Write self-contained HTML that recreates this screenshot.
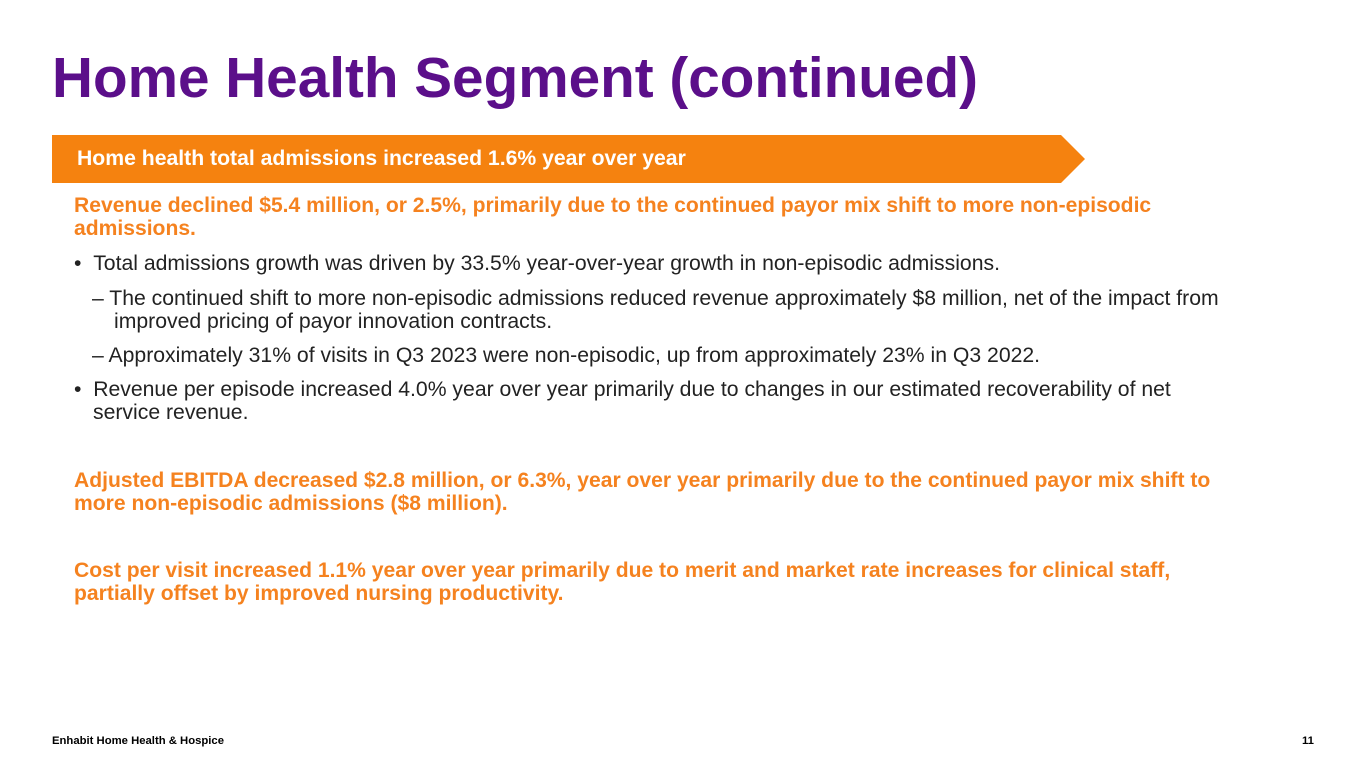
<!DOCTYPE html>
<html><head><meta charset="utf-8"><style>
body{margin:0;width:1365px;height:768px;background:#fff;position:relative;overflow:hidden;font-family:"Liberation Sans",Arial,sans-serif}
.a{position:absolute;white-space:nowrap}
.t{left:52px;top:46px;font-size:56.7px;font-weight:bold;color:#5b0f8a}
.o{color:#f5821f;font-weight:bold;font-size:21.1px}
.b{color:#222;font-size:21.2px}
.f{font-size:11.3px;font-weight:bold;color:#000}
</style></head><body>
<div class="a t">Home Health Segment (continued)</div>
<svg class="a" style="left:52px;top:135px" width="1035" height="48"><polygon points="0,0 1009,0 1033,24 1009,48 0,48" fill="#f5820f"/></svg>
<div class="a" style="left:77px;top:147px;font-size:21.2px;font-weight:bold;color:#fff">Home health total admissions increased 1.6% year over year</div>
<div class="a o" style="left:74px;top:194px">Revenue declined $5.4 million, or 2.5%, primarily due to the continued payor mix shift to more non-episodic</div>
<div class="a o" style="left:74px;top:217px">admissions.</div>
<div class="a b" style="left:74px;top:252px">•&nbsp;&nbsp;Total admissions growth was driven by 33.5% year-over-year growth in non-episodic admissions.</div>
<div class="a b" style="left:92px;top:287px">– The continued shift to more non-episodic admissions reduced revenue approximately $8 million, net of the impact from</div>
<div class="a b" style="left:114px;top:310px">improved pricing of payor innovation contracts.</div>
<div class="a b" style="left:92px;top:344px">– Approximately 31% of visits in Q3 2023 were non-episodic, up from approximately 23% in Q3 2022.</div>
<div class="a b" style="left:74px;top:378px">•&nbsp;&nbsp;Revenue per episode increased 4.0% year over year primarily due to changes in our estimated recoverability of net</div>
<div class="a b" style="left:93px;top:401px">service revenue.</div>
<div class="a o" style="left:74px;top:469px">Adjusted EBITDA decreased $2.8 million, or 6.3%, year over year primarily due to the continued payor mix shift to</div>
<div class="a o" style="left:74px;top:492px">more non-episodic admissions ($8 million).</div>
<div class="a o" style="left:74px;top:559px">Cost per visit increased 1.1% year over year primarily due to merit and market rate increases for clinical staff,</div>
<div class="a o" style="left:74px;top:582px">partially offset by improved nursing productivity.</div>
<div class="a f" style="left:52px;top:735px">Enhabit Home Health &amp; Hospice</div>
<div class="a f" style="left:1302px;top:735px">11</div>
</body></html>
